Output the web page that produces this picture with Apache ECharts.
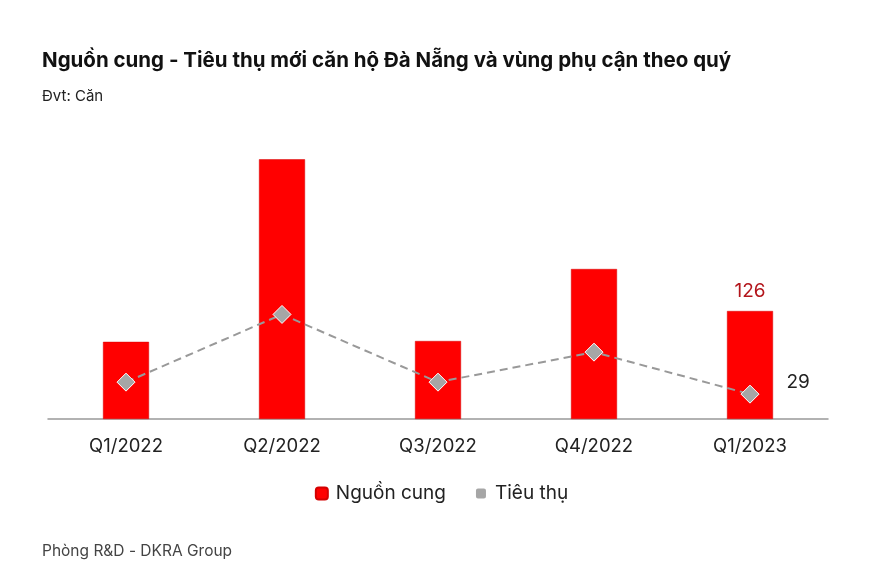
<!DOCTYPE html>
<html>
<head>
<meta charset="utf-8">
<script src="https://cdn.jsdelivr.net/npm/echarts@6/dist/echarts.min.js"></script>
<style>
  html, body { margin: 0; padding: 0; background: #fff; }
  #chart { width: 883px; height: 587px; }
</style>
</head>
<body>
<div id="chart"></div>
<script>
// du lieu doc tu hinh
const quarters = ['Q1/2022', 'Q2/2022', 'Q3/2022', 'Q4/2022', 'Q1/2023']
const supply = [90, 303, 91, 175, 126]   // Nguồn cung
const sold = [43, 122, 43, 78, 29]       // Tiêu thụ

const font = 'Inter, "Noto Sans", sans-serif'
const lastIdx = quarters.length - 1

let myChart = echarts.init(document.getElementById('chart'))
myChart.setOption({
  animation: false,
  textStyle: { fontFamily: font },
  title: [
    {
      text: 'Nguồn cung - Tiêu thụ mới căn hộ Đà Nẵng và vùng phụ cận theo quý',
      left: 42, top: 50, padding: 0,
      textStyle: { fontSize: 20.5, fontWeight: 'bold', color: '#111', fontFamily: font }
    },
    {
      text: 'Đvt: Căn',
      left: 42, top: 89, padding: 0,
      textStyle: { fontSize: 15, fontWeight: 'normal', color: '#222', fontFamily: font }
    },
    {
      text: 'Phòng R&D - DKRA Group',
      left: 42, top: 543, padding: 0,
      textStyle: { fontSize: 15.5, fontWeight: 'normal', color: '#444', fontFamily: font }
    }
  ],
  legend: {
    data: ['Nguồn cung', 'Tiêu thụ'],
    top: 479,
    left: 'center',
    itemWidth: 12,
    itemHeight: 12,
    itemGap: 28,
    icon: 'roundRect',
    textStyle: { fontSize: 19, color: '#222', fontFamily: font, padding: [0, 0, 0, 3] }
  },
  grid: { left: 48, right: 55, top: 119, bottom: 168 },
  xAxis: {
    type: 'category',
    data: quarters,
    axisLine: { lineStyle: { color: '#999', width: 1.5 } },
    axisTick: { show: false },
    axisLabel: { fontSize: 18.5, color: '#222', margin: 18, fontFamily: font }
  },
  yAxis: {
    type: 'value',
    min: 0,
    max: 350,
    show: false
  },
  series: [
    {
      name: 'Nguồn cung',
      type: 'bar',
      barWidth: 46,
      itemStyle: { color: '#ff0000', borderColor: '#d40000', borderWidth: 0.5 },
      label: {
        show: true,
        position: 'top',
        distance: 10,
        fontSize: 19,
        color: '#b3151b',
        fontFamily: font,
        formatter: p => (p.dataIndex === lastIdx ? p.value : '')
      },
      data: supply
    },
    {
      name: 'Tiêu thụ',
      type: 'line',
      symbol: 'diamond',
      symbolSize: 18,
      itemStyle: { color: '#a6a6a6', borderColor: '#fff', borderWidth: 1 },
      lineStyle: { color: '#999', width: 2, type: [8, 5] },
      label: {
        show: true,
        position: 'right',
        offset: [22, -12],
        fontSize: 19,
        color: '#222',
        fontFamily: font,
        formatter: p => (p.dataIndex === lastIdx ? p.value : '')
      },
      z: 3,
      data: sold
    }
  ]
})
</script>
</body>
</html>
